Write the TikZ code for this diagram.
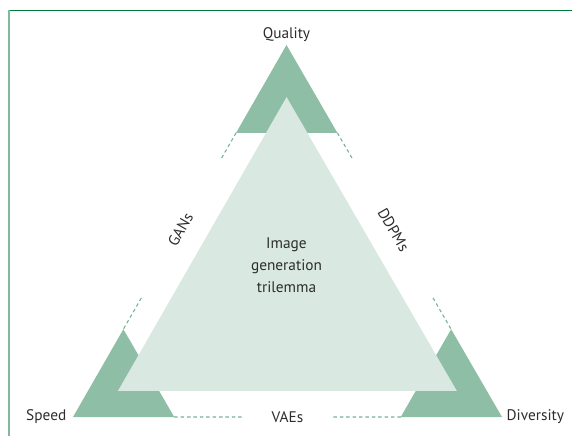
\documentclass[tikz,border=0pt]{standalone}
\usepackage{fontspec}
\setmainfont{PT Sans}
\usetikzlibrary{positioning}
\usetikzlibrary{calc}

\definecolor{framegreen}{RGB}{0,122,61}
\definecolor{rulegreen}{RGB}{128,186,156}
\definecolor{cornergreen}{RGB}{143,190,166}
\definecolor{coregreen}{RGB}{217,233,225}
\definecolor{dashgreen}{RGB}{120,176,148}
\definecolor{labelgray}{RGB}{45,45,45}

\begin{document}
\begin{tikzpicture}[x=0.75pt, y=-0.75pt,
			corner/.style={fill=cornergreen},
			core/.style={fill=coregreen},
			link/.style={draw=dashgreen, line width=0.8pt, dash pattern=on 2.6pt off 2.2pt},
			every node/.style={text=labelgray, font=\fontsize{11.5}{16.5}\selectfont}]
			\useasboundingbox (0,0) rectangle (572,436);
			\draw [framegreen, line width=1pt] (8,10.5) -- (572,10.5);
			\draw [rulegreen, line width=1.6pt] (8.6,10) -- (8.6,436);

			\coordinate (q) at (286.5,45);
			\coordinate (s) at (73,417);
			\coordinate (d) at (502,417);
			\coordinate (c) at (287,293);

			\fill [corner] (q) -- ($(q)!0.236!(s)$) -- ($(q)!0.236!(d)$) -- cycle;
			\fill [corner] (s) -- ($(s)!0.236!(q)$) -- ($(s)!0.236!(d)$) -- cycle;
			\fill [corner] (d) -- ($(d)!0.236!(q)$) -- ($(d)!0.236!(s)$) -- cycle;
			\fill [core] ($(c)!0.79!(q)$) -- ($(c)!0.79!(s)$) -- ($(c)!0.79!(d)$) -- cycle;

			\coordinate (qs1) at ($(q)!0.236!(s)$);
			\coordinate (qs2) at ($(q)!0.31!(s)$);
			\coordinate (qs3) at ($(q)!0.68!(s)$);
			\coordinate (qs4) at ($(q)!0.764!(s)$);
			\coordinate (qd1) at ($(q)!0.236!(d)$);
			\coordinate (qd2) at ($(q)!0.31!(d)$);
			\coordinate (qd3) at ($(q)!0.68!(d)$);
			\coordinate (qd4) at ($(q)!0.764!(d)$);
			\coordinate (sd1) at ($(s)!0.236!(d)$);
			\coordinate (sd2) at ($(s)!0.393!(d)$);
			\coordinate (sd3) at ($(s)!0.607!(d)$);
			\coordinate (sd4) at ($(s)!0.764!(d)$);

			\node [above=-1pt of q] (quality) {Quality};
			\node [left=1.5pt of s] (speed) {Speed};
			\node [right=0pt of d] (diversity) {Diversity};
			\node [rotate=60] (gans) at ($(q)!0.497!(s)$) {GANs};
			\node [rotate=-60] (ddpms) at ($(q)!0.497!(d)$) {DDPMs};
			\node (vaes) at ($(s)!0.5!(d)$) {VAEs};
			\node [align=center] (trilemma) at (286.5,265) {Image\\generation\\trilemma};

			\path [link]
				(qs1) edge [] (qs2)
				(qs3) edge [] (qs4)
				(qd1) edge [] (qd2)
				(qd3) edge [] (qd4)
				(sd1) edge [] (sd2)
				(sd3) edge [] (sd4);
		\end{tikzpicture}
\end{document}
